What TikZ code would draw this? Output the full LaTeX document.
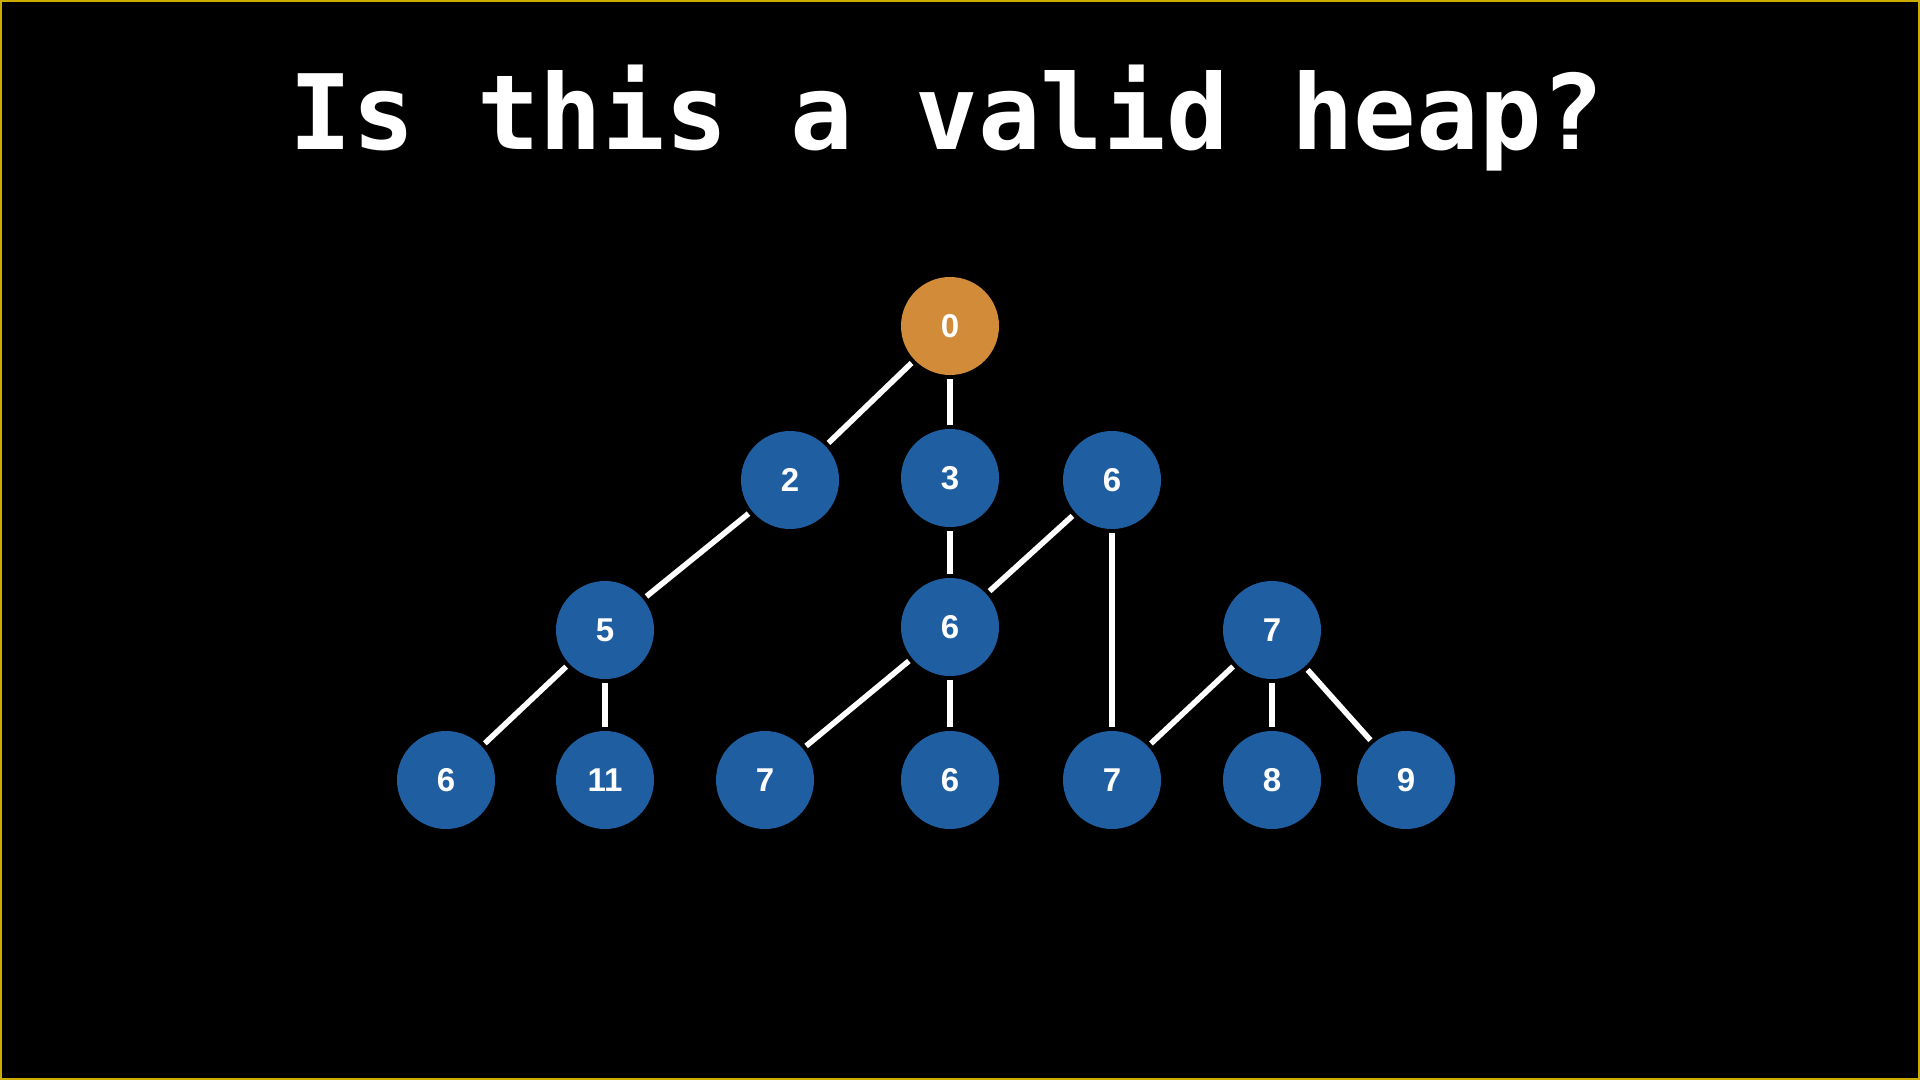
\documentclass[tikz,border=0pt]{standalone}
\usepackage{fontspec}
\setmainfont{Liberation Sans}
\newfontfamily\titlefont{DejaVu Sans Mono}
\usepackage{tikz}
\usetikzlibrary{positioning}
\usepackage{xcolor}
\definecolor{heapblue}{RGB}{31,95,161}
\definecolor{rootorange}{RGB}{210,139,56}
\definecolor{framegold}{RGB}{205,172,0}

\begin{document}
\begin{tikzpicture}[x=0.5pt, y=-0.5pt,
	heapnode/.style={circle, fill=heapblue, minimum size=49pt, inner sep=0pt, text=white, font=\bfseries\fontsize{16.5}{16.5}\selectfont},
	heapedge/.style={white, line width=2.8pt, shorten <=2pt, shorten >=2pt}]
			% Background and frame
			\fill[framegold] (0,0) rectangle (1920,1080);
			\fill[black] (2,2) rectangle (1918,1078);
			
			% Title
			\node[text=white, anchor=base, font=\titlefont\bfseries\fontsize{52}{52}\selectfont] (Title) at (947,150) {Is this a valid heap?};
			
			% Root and first level
			\node[heapnode, fill=rootorange] (Root) at (950,326) {0};
			\node[heapnode] (Two) at (790,480) {2};
			\node[heapnode] (Three) at (950,478) {3};
			\node[heapnode] (SixR) at (1112,480) {6};
			
			% Second level
			\node[heapnode] (Five) at (605,630) {5};
			\node[heapnode] (SixM) at (950,627) {6};
			\node[heapnode] (SevenR) at (1272,630) {7};
			
			% Bottom row
			\node[heapnode] (SixL) at (446,780) {6};
			\node[heapnode] (Eleven) at (605,780) {11};
			\node[heapnode] (SevenL) at (765,780) {7};
			\node[heapnode] (SixB) at (950,780) {6};
			\node[heapnode] (SevenB) at (1112,780) {7};
			\node[heapnode] (Eight) at (1272,780) {8};
			\node[heapnode] (Nine) at (1406,780) {9};
			
			% Draw the edges
			\draw[heapedge] (Root) -- (Two);
			\draw[heapedge] (Root) -- (Three);
			\draw[heapedge] (Two) -- (Five);
			\draw[heapedge] (Three) -- (SixM);
			\draw[heapedge] (SixR) -- (SixM);
			\draw[heapedge] (SixR) -- (SevenB);
			\draw[heapedge] (Five) -- (SixL);
			\draw[heapedge] (Five) -- (Eleven);
			\draw[heapedge] (SixM) -- (SevenL);
			\draw[heapedge] (SixM) -- (SixB);
			\draw[heapedge] (SevenR) -- (SevenB);
			\draw[heapedge] (SevenR) -- (Eight);
			\draw[heapedge] (SevenR) -- (Nine);
			
		\end{tikzpicture}
\end{document}
